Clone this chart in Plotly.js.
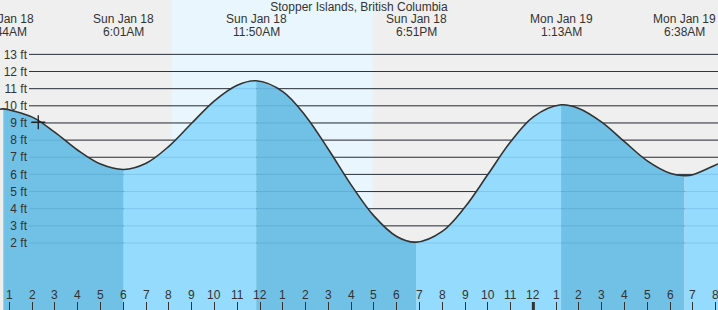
<!DOCTYPE html>
<html>
<head>
<meta charset="utf-8">
<script src="https://cdn.plot.ly/plotly-3.0.1.min.js"></script>
<style>html,body{margin:0;padding:0;background:#fff}#chart{width:718px;height:310px}</style>
</head>
<body>
<div id="chart"></div>
<script>
// Hours counted from midnight, Sun Jan 18; heights
const tideHours = [0.586, 0.733, 2, 3, 4, 5, 6.017, 7, 8, 9, 10, 11, 11.833,
  13, 14, 15, 16, 17, 18, 18.85,
  20, 21, 22, 23, 24, 25.217,
  26, 27, 28, 29, 30, 30.633, 31, 32, 32.105];
const tideFeet = [9.80, 9.82, 9.34, 8.45, 7.41, 6.60, 6.29, 6.65, 7.64, 8.98, 10.29, 11.20, 11.46,
  10.83, 9.41, 7.47, 5.39, 3.58, 2.38, 2.05,
  2.68, 4.10, 5.99, 7.90, 9.36, 10.06,
  9.85, 9.05, 7.91, 6.79, 6.07, 5.93, 5.98, 6.55, 6.61];
const extremeHours = [0.733, 6.017, 11.833, 18.85, 25.217, 30.633];
const extremeDates = ['Sun Jan 18', 'Sun Jan 18', 'Sun Jan 18', 'Sun Jan 18', 'Mon Jan 19', 'Mon Jan 19'];
const extremeTimes = ['12:44AM', '6:01AM', '11:50AM', '6:51PM', '1:13AM', '6:38AM'];
const hourTicks = [];
for (let h = 1; h <= 32; h++) hourTicks.push(h);
const hourLabels = ['1','2','3','4','5','6','7','8','9','10','11','12','1','2','3','4','5','6','7','8','9','10','11','12','1','2','3','4','5','6','7','8'];
const feetTicks = [2,3,4,5,6,7,8,9,10,11,12,13];
const daylight = [8.137, 16.947];
const nowHour = 2.267, nowFeet = 9.04;
const midnightHour = 24;
const chartTitle = 'Stopper Islands, British Columbia';

const W = 718, H = 310;
const xRange = [0.5865, 32.105];
const yRange = [-1.907, 16.17];
const LIGHT = '#94dbfd', DARK = '#71c0e6';
const TXT = '#333';

const traces = [];
const bounds = [xRange[0]].concat(extremeHours, [xRange[1]]);
for (let s = 0; s < bounds.length - 1; s++) {
  const a = bounds[s], b = bounds[s+1];
  const xs = [], ys = [];
  tideHours.forEach((h, i) => { if (h >= a - 1e-9 && h <= b + 1e-9) { xs.push(h); ys.push(tideFeet[i]); } });
  if (xs.length < 2) continue;
  const falling = ys[ys.length-1] < ys[0];
  traces.push({x: xs, y: xs.map(() => yRange[0]), mode: 'lines', line: {width: 0, color: 'rgba(0,0,0,0)'}, hoverinfo: 'skip', showlegend: false});
  traces.push({x: xs, y: ys, mode: 'lines', line: {width: 0, shape: 'spline', smoothing: 1, color: 'rgba(0,0,0,0)'},
    fill: 'tonexty', fillcolor: falling ? DARK : LIGHT, hoverinfo: 'skip', showlegend: false});
}
traces.push({x: tideHours, y: tideFeet, mode: 'lines', line: {color: '#333', width: 1.6, shape: 'spline', smoothing: 1}, showlegend: false, hoverinfo: 'skip'});
traces.push({x: [nowHour], y: [nowFeet], mode: 'markers', marker: {symbol: 'cross-thin', size: 10, line: {color: '#222', width: 1.3}}, showlegend: false});

const shapes = [];
shapes.push({type: 'rect', xref: 'x', yref: 'paper', x0: daylight[0], x1: daylight[1], y0: 0, y1: 1, fillcolor: '#eaf6fe', line: {width: 0}, layer: 'below'});
feetTicks.forEach(f => {
  shapes.push({type: 'line', xref: 'paper', yref: 'y', x0: 29/W, x1: 1, y0: f, y1: f, line: {color: '#333', width: 1}, layer: 'below'});
});
feetTicks.forEach(f => {
  shapes.push({type: 'line', xref: 'paper', yref: 'y', x0: 29/W, x1: 1, y0: f, y1: f, line: {color: 'rgba(0,60,120,0.13)', width: 1}, layer: 'above'});
});
shapes.push({type: 'line', xref: 'x', yref: 'paper', x0: midnightHour, x1: midnightHour, y0: 0, y1: 8/H, line: {color: '#333', width: 3}, layer: 'above'});

const annotations = [];
extremeHours.forEach((h, i) => {
  annotations.push({x: h, xref: 'x', y: 1 - 19.3/H, yref: 'paper', yanchor: 'middle', xanchor: 'center', text: extremeDates[i], showarrow: false, font: {size: 12, color: TXT}});
  annotations.push({x: h, xref: 'x', y: 1 - 32/H, yref: 'paper', yanchor: 'middle', xanchor: 'center', text: extremeTimes[i], showarrow: false, font: {size: 12, color: TXT}});
});
hourTicks.forEach((h, i) => {
  annotations.push({x: h, xref: 'x', y: 15.5/H, yref: 'paper', yanchor: 'middle', xanchor: 'center', text: hourLabels[i], showarrow: false, font: {size: 12, color: TXT}});
});

const layout = {
  width: W, height: H,
  margin: {l: 0, r: 0, t: 0, b: 0, pad: 0},
  paper_bgcolor: '#efefef', plot_bgcolor: '#efefef',
  font: {family: 'Liberation Sans, Arial, sans-serif', size: 12, color: TXT},
  title: {text: chartTitle, x: 0.5, xanchor: 'center', y: 1 - 6.5/H, yanchor: 'middle', font: {size: 12, color: TXT}},
  xaxis: {range: xRange, tickmode: 'array', tickvals: hourTicks, ticks: 'inside', ticklen: 8, tickwidth: 1, tickcolor: '#333',
    showticklabels: false, showgrid: false, zeroline: false, showline: false},
  yaxis: {range: yRange, tickmode: 'array', tickvals: feetTicks, ticktext: feetTicks.map(f => f + ' ft'), anchor: 'free', position: 29/W,
    ticklabelstandoff: 2, showgrid: false, zeroline: false, showline: false, ticks: '', tickfont: {size: 12, color: TXT}},
  shapes: shapes, annotations: annotations, showlegend: false
};
Plotly.newPlot('chart', traces, layout, {staticPlot: true, displayModeBar: false});
</script>
</body>
</html>
